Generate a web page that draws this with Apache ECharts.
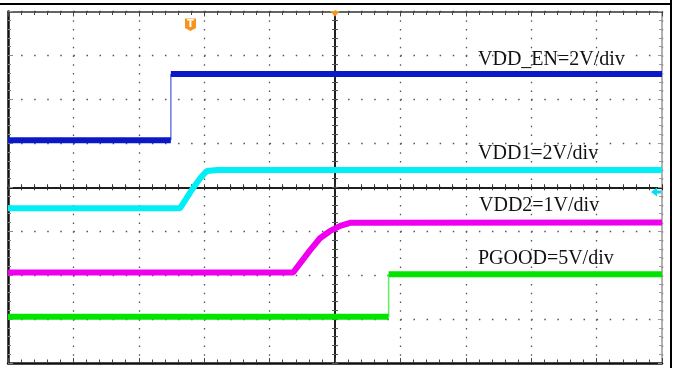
<!DOCTYPE html>
<html>
<head>
<meta charset="utf-8">
<script src="https://cdn.jsdelivr.net/npm/echarts@6/dist/echarts.min.js"></script>
<style>
  html, body { margin: 0; padding: 0; background: #fff; }
  #scope { width: 673px; height: 368px; }
</style>
</head>
<body>
<div id="scope"></div>
<script>
// scope screen: 10 x 8 divisions, (0, 0) is the centre of the screen
const vddEn = [[-5, 1.07], [-2.51, 1.07], [-2.51, 2.58], [5, 2.58]]
const vdd1 = [[-5, -0.48], [-2.37, -0.48], [-2.19, -0.06], [-2.06, 0.21], [-1.96, 0.37], [-1.8, 0.39], [5, 0.39]]
const vdd2 = [[-5, -1.94], [-0.64, -1.94], [-0.38, -1.43], [-0.23, -1.16], [-0.08, -1.0], [0.08, -0.88], [0.23, -0.81], [5, -0.8]]
const pgood = [[-5, -2.95], [0.82, -2.95], [0.82, -1.98], [5, -1.98]]
const traceLabels = ['VDD_EN=2V/div', 'VDD1=2V/div', 'VDD2=1V/div', 'PGOOD=5V/div']

const traces = [vddEn, vdd1, vdd2, pgood]
const colors = ['#0a18c8', '#00eef6', '#ee00ee', '#00e400']
const edgeColors = ['#6f78e0', '#70f4f8', '#f070f0', '#60ee60']
const labelPos = [[478, 49.7], [478, 144], [479, 195.5], [478, 248.7]]

// flat / ramp parts are drawn thick, fast vertical edges thin (like the scope does)
function splitTrace(points) {
  const runs = []
  const edges = []
  let run = [points[0]]
  for (let i = 1; i < points.length; i++) {
    const a = points[i - 1]
    const b = points[i]
    if (a[0] === b[0]) {
      edges.push([a, b])
      runs.push(run)
      run = [b]
    } else {
      run.push(b)
    }
  }
  runs.push(run)
  return { runs, edges }
}

const series = []
traces.forEach((pts, i) => {
  const parts = splitTrace(pts)
  parts.edges.forEach(e => {
    series.push({
      type: 'line', data: e, symbol: 'none', silent: true, z: 3,
      lineStyle: { color: edgeColors[i], width: 1.5 },
    })
  })
  parts.runs.forEach(r => {
    series.push({
      type: 'line', data: r, symbol: 'none', silent: true, z: 4,
      lineStyle: { color: colors[i], width: 6, join: 'bevel' },
    })
  })
})

function axis(dim, opts) {
  const min = dim === 'x' ? -5 : -4
  const max = dim === 'x' ? 5 : 4
  return {
    type: 'value',
    min,
    max,
    interval: 1,
    position: opts.position,
    axisLine: {
      show: true,
      onZero: !!opts.onZero,
      onZeroAxisIndex: opts.onZero ? 0 : undefined,
      lineStyle: { color: opts.color, width: opts.width },
    },
    axisTick: {
      show: true,
      inside: opts.inside,
      length: opts.tickLen,
      lineStyle: { color: opts.tickColor, width: 1 },
    },
    minorTick: {
      show: true,
      splitNumber: 5,
      length: opts.minorLen,
      lineStyle: { color: opts.tickColor, width: 1 },
    },
    axisLabel: { show: false },
    splitLine: opts.dots
      ? { show: true, lineStyle: { color: '#555', width: 1.3, type: opts.dots } }
      : { show: false },
  }
}

const chart = echarts.init(document.getElementById('scope'))
chart.setOption({
  animation: false,
  backgroundColor: '#fff',
  grid: { left: 8, right: 11, top: 11.5, bottom: 5, outerBoundsMode: 'none' },
  xAxis: [
    axis('x', { position: 'bottom', color: '#111', width: 2.5, inside: true, tickLen: 5, minorLen: 3.5, tickColor: '#444', dots: [1.5, 7.29] }),
    axis('x', { position: 'top', color: '#333', width: 1.5, inside: true, tickLen: 5, minorLen: 3.5, tickColor: '#444' }),
    axis('x', { position: 'bottom', onZero: true, color: '#111', width: 1.5, inside: true, tickLen: 3, minorLen: 3, tickColor: '#333' }),
    axis('x', { position: 'bottom', onZero: true, color: '#111', width: 1.5, inside: false, tickLen: 3, minorLen: 3, tickColor: '#333' }),
  ],
  yAxis: [
    axis('y', { position: 'left', color: '#111', width: 2.5, inside: true, tickLen: 5, minorLen: 3, tickColor: '#888', dots: [1.5, 11.58] }),
    axis('y', { position: 'right', color: '#999', width: 1.5, inside: true, tickLen: 4, minorLen: 3, tickColor: '#999' }),
    axis('y', { position: 'left', onZero: true, color: '#111', width: 1.5, inside: true, tickLen: 3, minorLen: 3, tickColor: '#555' }),
    axis('y', { position: 'left', onZero: true, color: '#111', width: 1.5, inside: false, tickLen: 3, minorLen: 3, tickColor: '#555' }),
  ],
  series,
  graphic: [
    // outer frame
    { type: 'line', shape: { x1: 0, y1: 4, x2: 672, y2: 4 }, style: { stroke: '#000', lineWidth: 2 }, z: 10 },
    { type: 'line', shape: { x1: 671, y1: 0, x2: 671, y2: 368 }, style: { stroke: '#000', lineWidth: 2 }, z: 10 },
    // trigger marker
    { type: 'polygon', shape: { points: [[185, 18.5], [196, 18.5], [196, 28], [190.5, 31], [185, 28]] }, style: { fill: '#f7941d' }, z: 10 },
    { type: 'text', style: { text: 'T', x: 190.5, y: 24.5, fill: '#fff', font: 'bold 10px "DejaVu Sans"', align: 'center', verticalAlign: 'middle', textAlign: 'center', textVerticalAlign: 'middle' }, z: 11 },
    { type: 'polygon', shape: { points: [[330, 11], [340, 11], [335, 16.5]] }, style: { fill: '#f7941d' }, z: 10 },
    // ch1 level marker
    { type: 'polygon', shape: { points: [[651, 192], [657, 187.5], [657, 196.5]] }, style: { fill: '#00e0f0' }, z: 10 },
    { type: 'rect', shape: { x: 657, y: 190.5, width: 4, height: 3 }, style: { fill: '#00e0f0' }, z: 10 },
    ...traceLabels.map((t, i) => ({
      type: 'text',
      z: 12,
      style: {
        text: t,
        x: labelPos[i][0],
        y: labelPos[i][1],
        fill: '#111',
        font: '20px "Liberation Serif"',
        align: 'left', verticalAlign: 'top',
        textAlign: 'left', textVerticalAlign: 'top',
      },
    })),
  ],
})
</script>
</body>
</html>
